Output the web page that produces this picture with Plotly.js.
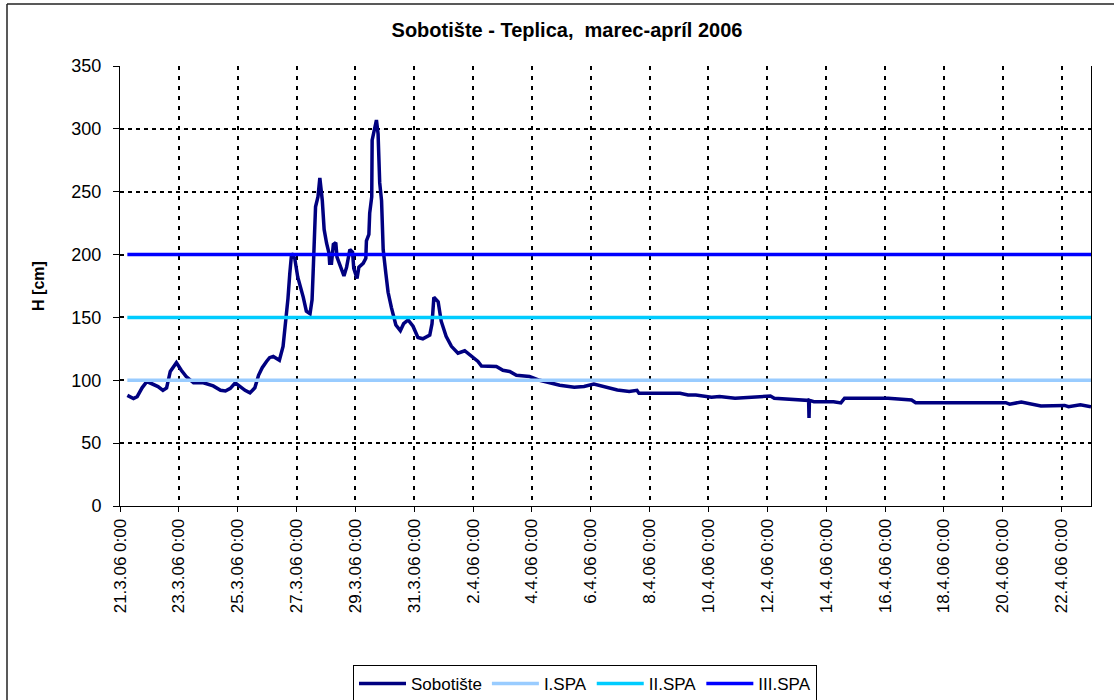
<!DOCTYPE html>
<html>
<head>
<meta charset="utf-8">
<script src="https://cdn.plot.ly/plotly-3.0.1.min.js"></script>
<style>
  html, body { margin: 0; padding: 0; background: #fff; }
  #chart { width: 1114px; height: 700px; }
</style>
</head>
<body>
<div id="chart"></div>
<script>
// ---- data ----
const sobotisteTime = [
  "2006-03-21 06:00","2006-03-21 08:00","2006-03-21 11:00","2006-03-21 14:00","2006-03-21 18:00","2006-03-21 22:00",
  "2006-03-22 03:00","2006-03-22 07:00","2006-03-22 11:00","2006-03-22 14:00","2006-03-22 17:00","2006-03-22 19:00","2006-03-22 22:00",
  "2006-03-23 02:00","2006-03-23 06:00","2006-03-23 12:00","2006-03-23 20:00",
  "2006-03-24 04:00","2006-03-24 10:00","2006-03-24 14:00","2006-03-24 18:00","2006-03-24 22:00",
  "2006-03-25 02:00","2006-03-25 06:00","2006-03-25 10:00","2006-03-25 14:00","2006-03-25 17:00","2006-03-25 20:00","2006-03-25 23:30",
  "2006-03-26 02:00","2006-03-26 05:00","2006-03-26 10:00","2006-03-26 13:00","2006-03-26 15:00","2006-03-26 17:00","2006-03-26 18:30","2006-03-26 20:00","2006-03-26 22:30",
  "2006-03-27 01:00","2006-03-27 05:30","2006-03-27 08:00","2006-03-27 11:00","2006-03-27 12:40","2006-03-27 13:30","2006-03-27 15:30","2006-03-27 17:30","2006-03-27 19:00","2006-03-27 21:00","2006-03-27 22:30",
  "2006-03-28 00:30","2006-03-28 02:30","2006-03-28 03:00","2006-03-28 04:30","2006-03-28 06:00","2006-03-28 08:00","2006-03-28 09:00","2006-03-28 11:20","2006-03-28 12:40","2006-03-28 14:40","2006-03-28 16:50","2006-03-28 19:30","2006-03-28 21:40","2006-03-28 22:40",
  "2006-03-29 01:20","2006-03-29 02:50","2006-03-29 06:20","2006-03-29 08:30","2006-03-29 09:00","2006-03-29 11:00","2006-03-29 11:40","2006-03-29 13:20","2006-03-29 13:40","2006-03-29 15:10","2006-03-29 17:10","2006-03-29 18:30","2006-03-29 19:50","2006-03-29 21:20","2006-03-29 22:40",
  "2006-03-30 00:50","2006-03-30 02:40","2006-03-30 05:20","2006-03-30 09:00","2006-03-30 12:40","2006-03-30 15:20","2006-03-30 19:00","2006-03-30 23:00",
  "2006-03-31 03:00","2006-03-31 07:00","2006-03-31 12:40","2006-03-31 14:30","2006-03-31 16:00","2006-03-31 19:30","2006-03-31 22:00",
  "2006-04-01 02:00","2006-04-01 06:20","2006-04-01 11:40","2006-04-01 17:10","2006-04-01 22:40",
  "2006-04-02 04:00","2006-04-02 06:50","2006-04-02 19:00",
  "2006-04-03 00:20","2006-04-03 05:50","2006-04-03 11:20","2006-04-03 22:00",
  "2006-04-04 06:20","2006-04-04 17:00","2006-04-04 22:40",
  "2006-04-05 10:30","2006-04-05 18:30",
  "2006-04-06 02:30","2006-04-06 12:00","2006-04-06 21:40",
  "2006-04-07 07:20","2006-04-07 13:40","2006-04-07 15:20",
  "2006-04-09 00:50","2006-04-09 07:20","2006-04-09 13:40",
  "2006-04-10 02:30","2006-04-10 09:00","2006-04-10 21:40",
  "2006-04-11 16:50",
  "2006-04-12 02:30","2006-04-12 05:40",
  "2006-04-13 01:00","2006-04-13 09:00","2006-04-13 09:40","2006-04-13 10:00","2006-04-13 10:20","2006-04-13 14:00",
  "2006-04-14 06:00","2006-04-14 12:00","2006-04-14 15:00",
  "2006-04-16 02:30","2006-04-16 21:40",
  "2006-04-17 01:00","2006-04-17 13:40",
  "2006-04-19 04:00",
  "2006-04-20 02:30","2006-04-20 05:40","2006-04-20 15:10",
  "2006-04-21 07:10",
  "2006-04-22 02:30","2006-04-22 05:40","2006-04-22 15:20",
  "2006-04-23 00:00"
];
const sobotisteH = [
  88,87,85.5,87,94,99,
  97,95,92,94,107,110,114,
  108,103,98,98,
  95.5,92,91.5,93.6,98,
  95,92,90,94,104,110,115,
  118,119,116,127,145,165,185,201,197,
  182,166,155,153,164,185,238,246,261,243,220,
  209,201,193,193,208,209.5,198,192,188,183,190,204,202,189,
  181,190,193,197,211,216,233,246,291,299,307,296,257,243,204,
  185,170,158,144,139.5,145,148,143,
  134,133,136,145,166,162.5,147,
  135,127,121.5,123.5,119,
  115,111.4,111,
  108,107,104,103,
  100,97.6,96,
  94.4,95,
  97,95,92.3,
  91,92,89.6,
  89.6,88.3,88.3,
  86.5,87,85.7,
  87,
  87.5,85.7,
  85,84.3,84,70,84,83,
  83,82,85.7,
  85.7,84.3,
  82.2,82.2,
  81.7,
  82.2,81,82.7,
  79.6,
  80,79,80.6,
  79
];
const spaTime = ["2006-03-21 06:00", "2006-04-23 00:00"];
const spa1 = [100, 100];
const spa2 = [150, 150];
const spa3 = [200, 200];

const xTickVals = ["2006-03-21","2006-03-23","2006-03-25","2006-03-27","2006-03-29","2006-03-31",
  "2006-04-02","2006-04-04","2006-04-06","2006-04-08","2006-04-10","2006-04-12","2006-04-14",
  "2006-04-16","2006-04-18","2006-04-20","2006-04-22"];
const xTickText = ["21.3.06 0:00","23.3.06 0:00","25.3.06 0:00","27.3.06 0:00","29.3.06 0:00","31.3.06 0:00",
  "2.4.06 0:00","4.4.06 0:00","6.4.06 0:00","8.4.06 0:00","10.4.06 0:00","12.4.06 0:00","14.4.06 0:00",
  "16.4.06 0:00","18.4.06 0:00","20.4.06 0:00","22.4.06 0:00"];

const FONT = "Arial, 'Liberation Sans', sans-serif";

const traces = [
  {x: sobotisteTime, y: sobotisteH, name: "Sobotište", type: "scatter", mode: "lines",
   line: {color: "#000080", width: 3.5}},
  {x: spaTime, y: spa1, name: "I.SPA", type: "scatter", mode: "lines",
   line: {color: "#99CCFF", width: 3.5}},
  {x: spaTime, y: spa2, name: "II.SPA", type: "scatter", mode: "lines",
   line: {color: "#00CCFF", width: 3.5}},
  {x: spaTime, y: spa3, name: "III.SPA", type: "scatter", mode: "lines",
   line: {color: "#0000FF", width: 3.5}}
];

const layout = {
  width: 1114, height: 700,
  margin: {l: 120, r: 23, t: 66, b: 194},
  paper_bgcolor: "#fff", plot_bgcolor: "#fff",
  font: {family: FONT, size: 17, color: "#000"},
  showlegend: true,
  hovermode: false,
  title: {text: "<b>Sobotište - Teplica,  marec-apríl 2006</b>", font: {family: FONT, size: 20, color: "#000"},
          x: 567/1114, xref: "container", xanchor: "center", y: 1 - 30/700, yref: "container", yanchor: "middle"},
  xaxis: {
    type: "date",
    range: ["2006-03-21 00:00", "2006-04-23 00:00"],
    tickmode: "array", tickvals: xTickVals, ticktext: xTickText,
    tickangle: -90, ticks: "outside", ticklen: 5, tickcolor: "#000", tickwidth: 1,
    tickfont: {family: FONT, size: 17, color: "#000"},
    showline: true, linecolor: "#000", linewidth: 1,
    showgrid: true, gridcolor: "#000", gridwidth: 2, griddash: "4px,6px",
    zeroline: false, fixedrange: true
  },
  yaxis: {
    range: [0, 350], dtick: 50, tick0: 0,
    ticks: "outside", ticklen: 6, tickcolor: "#000", tickwidth: 1,
    ticklabelstandoff: 8,
    tickfont: {family: FONT, size: 18, color: "#000"},
    showline: true, mirror: true, linecolor: "#000", linewidth: 1,
    showgrid: true, gridcolor: "#000", gridwidth: 2, griddash: "4px,4px",
    zeroline: false, fixedrange: true,
    title: {text: "<b>H [cm]</b>", font: {family: FONT, size: 16, color: "#000"}, standoff: 22}
  },
  legend: {
    orientation: "h",
    xref: "container", yref: "container",
    x: 353/1114, y: 1 - 665/700, xanchor: "left", yanchor: "top",
    bordercolor: "#000", borderwidth: 1, bgcolor: "#fff",
    font: {family: FONT, size: 17, color: "#000"},
    traceorder: "normal", itemwidth: 47
  },
  shapes: [
    {type: "line", xref: "paper", yref: "paper", x0: (7-120)/971, x1: (1114-120)/971, y0: (506-4)/440, y1: (506-4)/440,
     line: {color: "#222", width: 1.5}},
    {type: "line", xref: "paper", yref: "paper", x0: (7-120)/971, x1: (7-120)/971, y0: (506-4)/440, y1: (506-700)/440,
     line: {color: "#222", width: 1.5}}
  ]
};

Plotly.newPlot("chart", traces, layout, {displayModeBar: false, staticPlot: true});
</script>
</body>
</html>
